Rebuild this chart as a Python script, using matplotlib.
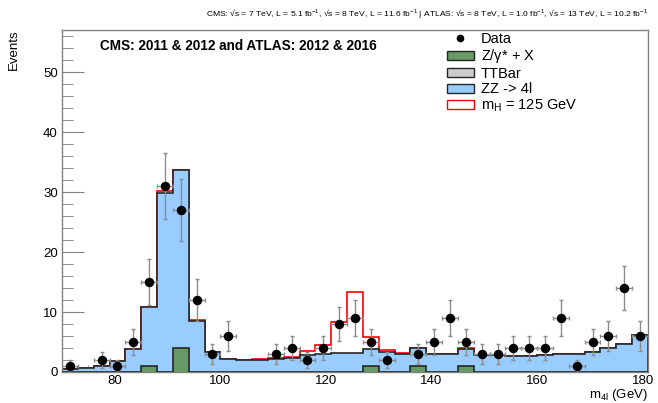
""" Recreate the CMS/ATLAS four-lepton invariant mass plot """

import numpy as np
import matplotlib
matplotlib.use("Agg")
import matplotlib.pyplot as plt
from matplotlib.patches import Patch
from matplotlib.lines import Line2D

# Binning: 37 bins of 3 GeV from 70 to 181
bin_edges = np.arange(70, 182, 3)

# Data counts per bin
data_counts = [1, 0, 2, 1, 5, 15, 31, 27, 12, 3, 6, 0, 0, 3, 4, 2, 4, 8, 9,
               5, 2, 0, 3, 5, 9, 5, 3, 3, 4, 4, 4, 9, 1, 5, 6, 14, 6]

# Background contributions per bin
zgamma_x = [0, 0, 0, 0, 0, 1, 0, 4, 0, 0, 0, 0, 0, 0, 0, 0, 0, 0, 0,
            1, 0, 0, 1, 0, 0, 1, 0, 0, 0, 0, 0, 0, 0, 0, 0, 0, 0]
ttbar = [0] * 37
zz_4l = [0.45, 0.6, 1.0, 1.8, 3.9, 9.8, 29.8, 29.6, 8.5, 3.4, 2.2, 1.95, 2.0,
         2.17, 2.35, 2.83, 3.05, 3.1, 3.2, 2.9, 3.33, 3.05, 3.05, 3.05, 3.05,
         2.8, 2.83, 2.8, 2.72, 2.72, 2.78, 2.94, 3.05, 3.4, 4.0, 4.6, 6.1]

# Higgs signal (mH = 125 GeV)
higgs = [0, 0, 0, 0, 0, 0, 0.3, 0, 0.15, 0, 0.05, 0.05, 0.1, 0.13, 0.2, 0.67,
         1.45, 5.3, 10.2, 1.9, 0.34, 0.05, 0, 0, 0, 0.15, 0, 0, 0, 0, 0, 0,
         0, 0, 0, 0, 0]

title_text = (r"CMS: √s = 7 TeV, L = 5.1 fb$^{\mathregular{-1}}$, "
              r"√s = 8 TeV, L = 11.6 fb$^{\mathregular{-1}}$ | "
              r"ATLAS: √s = 8 TeV, L = 1.0 fb$^{\mathregular{-1}}$, "
              r"√s = 13 TeV, L = 10.2 fb$^{\mathregular{-1}}$")


def plot_higgs():
    plt.rcParams["font.family"] = ["Liberation Sans", "DejaVu Sans"]
    plt.rcParams["mathtext.fontset"] = "custom"
    plt.rcParams["mathtext.rm"] = "Liberation Sans"
    plt.rcParams["mathtext.it"] = "Liberation Sans:italic"

    W, H = 658, 403
    fig = plt.figure(figsize=(W / 100, H / 100), dpi=100)
    left, right, top, bottom = 62, 648, 29.5, 372
    ax = fig.add_axes([left / W, 1 - bottom / H, (right - left) / W, (bottom - top) / H])

    z = np.array(zgamma_x, dtype=float)
    tt = z + np.array(ttbar, dtype=float)
    zz = tt + np.array(zz_4l, dtype=float)
    sig = zz + np.array(higgs, dtype=float)

    edge = "#262626"
    # stacked histograms, largest cumulative drawn first
    ax.stairs(sig, bin_edges, color="red", linewidth=1.2, zorder=1)
    ax.stairs(zz, bin_edges, fill=True, facecolor="#99ccff", zorder=2)
    ax.stairs(zz, bin_edges, color=edge, linewidth=1.2, zorder=2.1)
    ax.stairs(tt, bin_edges, fill=True, facecolor="#cccccc", zorder=3)
    ax.stairs(z, bin_edges, fill=True, facecolor="#669966", zorder=4)
    ax.stairs(z, bin_edges, color=edge, linewidth=1.2, zorder=4.1)

    # data points with Poisson errors
    centers = 0.5 * (bin_edges[:-1] + bin_edges[1:])
    counts = np.array(data_counts, dtype=float)
    mask = counts > 0
    ax.errorbar(centers[mask], counts[mask], yerr=np.sqrt(counts[mask]),
                xerr=1.5, fmt="o", color="black", markersize=5.8,
                ecolor="#8c8c8c", elinewidth=1.0, capsize=1.5, zorder=6)

    ax.set_xlim(70, 181)
    ax.set_ylim(0, 57.1)
    ax.set_xticks([80, 100, 120, 140, 160, 180])
    ax.set_xticks(np.arange(70, 181, 5), minor=True)
    ax.set_yticks([0, 10, 20, 30, 40, 50])
    ax.set_yticks(np.arange(0, 57, 2), minor=True)
    ax.tick_params(axis="both", which="both", direction="in", colors="#808080",
                   labelcolor="black", labelsize=9.5)
    ax.tick_params(axis="x", which="major", length=9, pad=2.5)
    ax.tick_params(axis="x", which="minor", length=5)
    ax.tick_params(axis="y", which="major", length=16, pad=3)
    ax.tick_params(axis="y", which="minor", length=8)
    for s in ax.spines.values():
        s.set_color("#808080")
        s.set_linewidth(1.0)

    ax.set_ylabel("Events", fontsize=9.5, loc="top")
    ax.yaxis.set_label_coords(-0.072, 1.0)
    ax.set_xlabel(r"m$_{\mathregular{4l}}$ (GeV)", fontsize=9.5, loc="right")
    ax.xaxis.set_label_coords(1.0, -0.043)

    fig.text(right / W, 1 - 14 / H, title_text, fontsize=6.1, ha="right", va="center")
    ax.text(100 / W, 1 - 46 / H, "CMS: 2011 & 2012 and ATLAS: 2012 & 2016",
            transform=fig.transFigure, fontsize=9.8, fontweight="bold",
            ha="left", va="center")

    handles = [
        Line2D([], [], marker="o", color="black", linestyle="none", markersize=4.5),
        Patch(facecolor="#669966", edgecolor=edge),
        Patch(facecolor="#cccccc", edgecolor=edge),
        Patch(facecolor="#99ccff", edgecolor=edge),
        Patch(facecolor="white", edgecolor="red"),
    ]
    labels = ["Data", r"Z/$\mathregular{\gamma}$* + X", "TTBar", "ZZ -> 4l",
              r"m$_{\mathregular{H}}$ = 125 GeV"]
    fig.legend(handles, labels, loc="upper left", bbox_to_anchor=(447 / W, 1 - 32 / H),
               frameon=False, fontsize=10.5, handlelength=1.85, handleheight=0.55,
               handletextpad=0.45, labelspacing=0.1, borderpad=0, borderaxespad=0)

    fig.savefig("out.png", dpi=100)


if __name__ == "__main__":
    plot_higgs()
